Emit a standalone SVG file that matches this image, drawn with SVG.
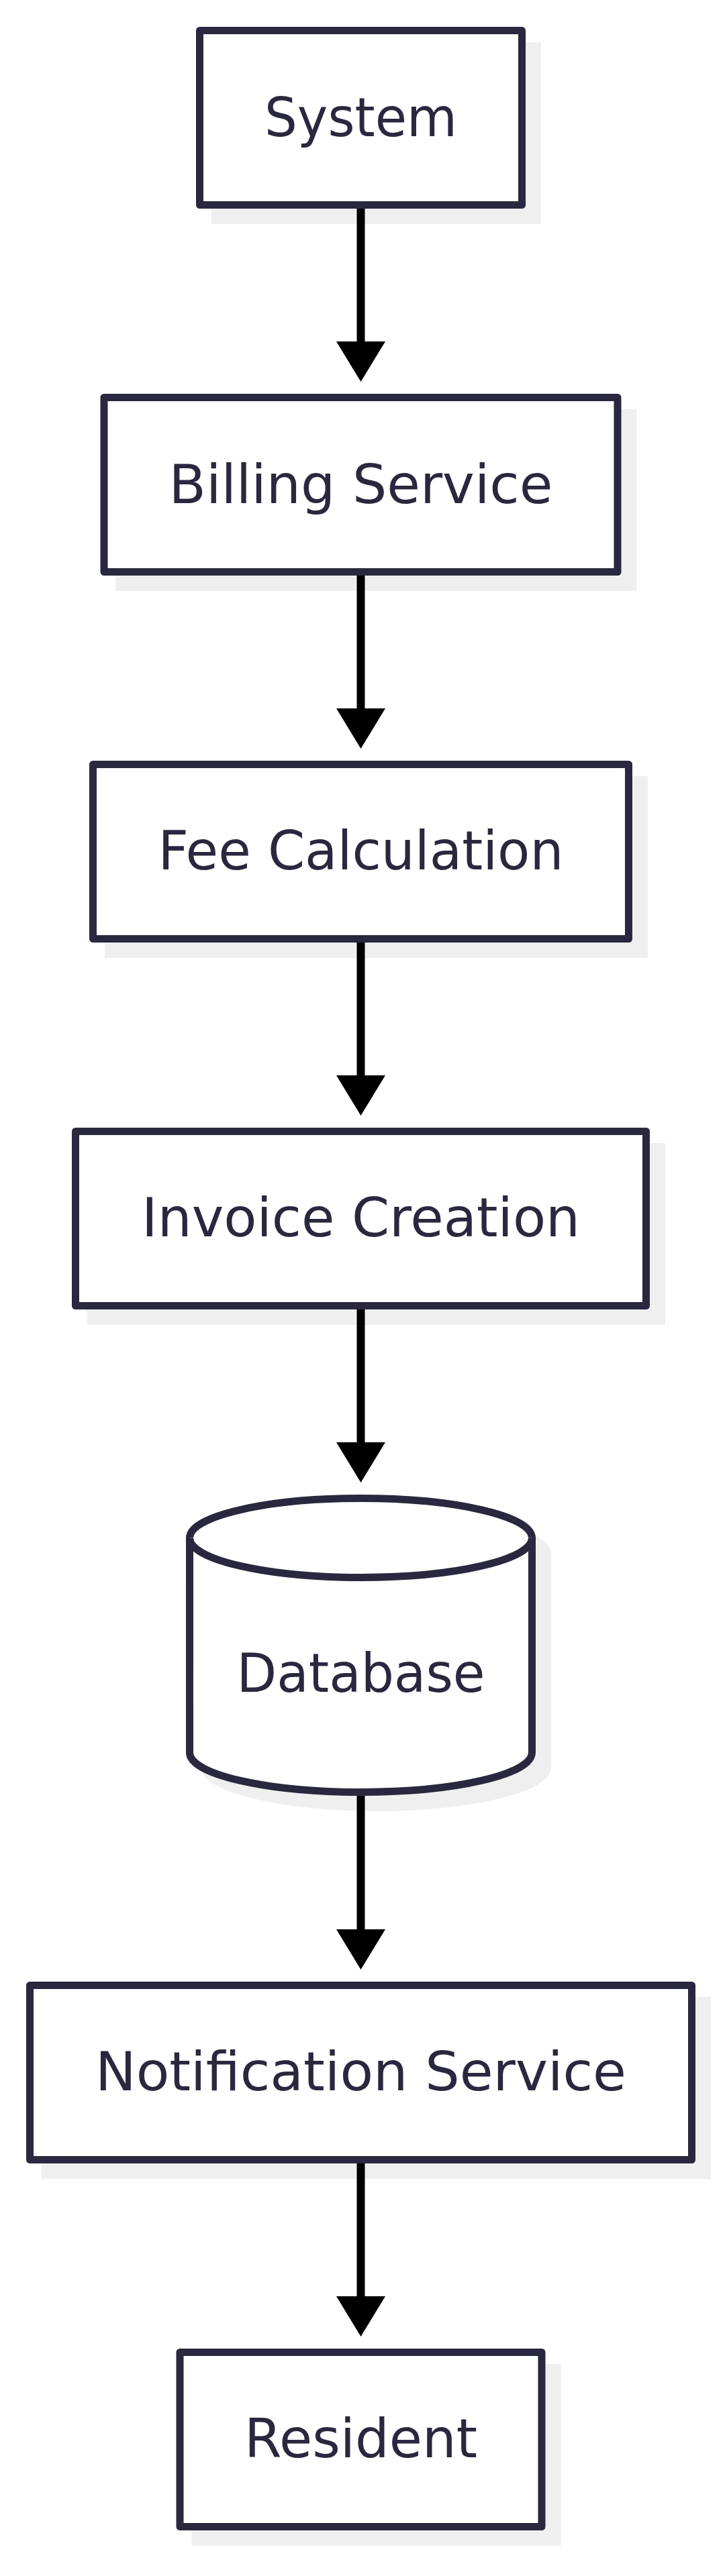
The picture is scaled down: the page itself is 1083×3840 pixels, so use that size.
<svg xmlns="http://www.w3.org/2000/svg" width="1083" height="3840" viewBox="0 0 1083 3840">
<style>
.shadow{fill:#efefef;stroke:none}
.box{fill:#ffffff;stroke:#29283e;stroke-width:11;stroke-linejoin:round}
.lbl{font-family:"DejaVu Sans","Liberation Sans",sans-serif;font-size:80px;fill:#29283e;text-anchor:middle}
.edge{fill:none;stroke:#000000;stroke-width:12}
</style>
<defs>
<marker id="arrow" markerUnits="userSpaceOnUse" viewBox="0 0 60 73" refX="0" refY="36.5" markerWidth="60" markerHeight="73" orient="auto">
<path d="M0,0 L60,36.5 L0,73 Z" fill="#000000"/>
</marker>
</defs>
<rect width="1083" height="3840" fill="#ffffff"/>
<g id="system">
<rect class="shadow" x="315" y="63" width="491" height="271"/>
<rect class="box" x="297.5" y="45.5" width="480" height="260"/>
<text class="lbl" x="537.5" y="203" textLength="287" lengthAdjust="spacingAndGlyphs">System</text>
</g>
<g id="billing-service">
<rect class="shadow" x="172.5" y="610" width="776" height="271"/>
<rect class="box" x="155" y="592.5" width="765" height="260"/>
<text class="lbl" x="537.5" y="749.5" textLength="572" lengthAdjust="spacingAndGlyphs">Billing Service</text>
</g>
<g id="fee-calculation">
<rect class="shadow" x="156" y="1157" width="809" height="271"/>
<rect class="box" x="138.5" y="1139.5" width="798" height="260"/>
<text class="lbl" x="537.5" y="1296" textLength="604" lengthAdjust="spacingAndGlyphs">Fee Calculation</text>
</g>
<g id="invoice-creation">
<rect class="shadow" x="130" y="1704" width="861" height="271"/>
<rect class="box" x="112.5" y="1686.5" width="850" height="260"/>
<text class="lbl" x="537.5" y="1843" textLength="653" lengthAdjust="spacingAndGlyphs">Invoice Creation</text>
</g>
<g id="database">
<path class="shadow" d="M300,2315.5 a260.5,64.5 0 0,1 521,0 L821,2635.5 a260.5,64.5 0 0,1 -521,0 Z"/>
<path class="box" d="M282.5,2292.5 a255,59 0 0,1 510,0 L792.5,2612.5 a255,59 0 0,1 -510,0 Z"/>
<path class="box" fill="none" d="M282.5,2292.5 a255,59 0 0,0 510,0"/>
<text class="lbl" x="537.5" y="2522" textLength="370" lengthAdjust="spacingAndGlyphs">Database</text>
</g>
<g id="notification-service">
<rect class="shadow" x="62" y="2977" width="997" height="271"/>
<rect class="box" x="44.5" y="2959.5" width="986" height="260"/>
<text class="lbl" x="537.5" y="3116" textLength="791" lengthAdjust="spacingAndGlyphs">Notification Service</text>
</g>
<g id="resident">
<rect class="shadow" x="285.5" y="3524" width="550" height="271"/>
<rect class="box" x="268" y="3506.5" width="539" height="260"/>
<text class="lbl" x="537.5" y="3663" textLength="347" lengthAdjust="spacingAndGlyphs">Resident</text>
</g>
<g id="connectors">
<path class="edge" d="M537.5,311 L537.5,509" marker-end="url(#arrow)"/>
<path class="edge" d="M537.5,858 L537.5,1056" marker-end="url(#arrow)"/>
<path class="edge" d="M537.5,1405 L537.5,1603" marker-end="url(#arrow)"/>
<path class="edge" d="M537.5,1952 L537.5,2150" marker-end="url(#arrow)"/>
<path class="edge" d="M537.5,2677 L537.5,2876" marker-end="url(#arrow)"/>
<path class="edge" d="M537.5,3225 L537.5,3423" marker-end="url(#arrow)"/>
</g>
</svg>
